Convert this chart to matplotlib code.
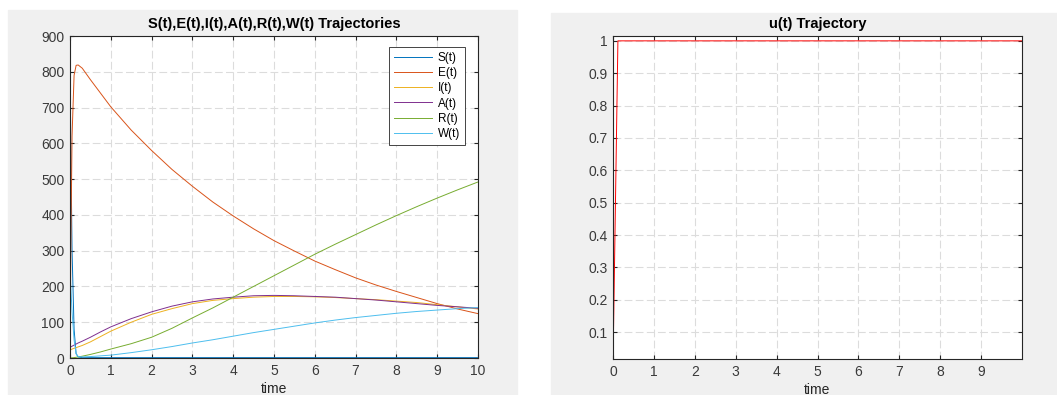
import matplotlib
matplotlib.use('Agg')
from matplotlib import pyplot as plt
from matplotlib.patches import Rectangle

plt.rcParams['font.family'] = ['Liberation Sans', 'DejaVu Sans']

# time points
t = [0, 0.02, 0.05, 0.1, 0.15, 0.2, 0.3, 0.5, 0.75, 1, 1.5, 2, 2.5, 3, 3.5, 4, 4.5,
     5, 5.5, 6, 6.5, 7, 7.5, 8, 8.5, 9, 9.5, 10]
S = [800, 600, 300, 80, 12, 3, 1, 1, 1, 1, 1, 1, 1, 1, 1, 1, 1,
     1, 1, 1, 1, 1, 1, 1, 1, 1, 1, 1]
E = [20, 300, 620, 790, 818, 819, 810, 778, 740, 702, 637, 580, 527, 480, 436, 397, 361,
     328, 299, 271, 247, 224, 204, 186, 169, 152, 137, 124]
I = [22, 23, 25, 27, 29, 31, 35, 45, 60, 75, 100, 122, 138, 152, 161, 166, 170,
     172, 172, 171, 169, 166, 163, 159, 155, 149, 143, 137]
A = [30, 31, 33, 36, 39, 42, 47, 58, 73, 87, 110, 129, 145, 157, 165, 170, 174,
     175, 174, 172, 170, 166, 162, 157, 152, 147, 143, 139]
R = [0, 0, 0.5, 1, 2, 3, 5, 10, 17, 25, 40, 58, 83, 112, 140, 170, 200,
     230, 260, 290, 318, 345, 372, 398, 423, 447, 470, 492]
W = [260, 200, 130, 50, 12, 4, 3, 4, 6, 8, 15, 23, 32, 42, 51, 61, 71,
     80, 89, 98, 106, 113, 119, 125, 130, 134, 138, 141]

t_u = [0, 0.12, 10]
u = [0.0, 1.0, 1.0]

series = [('S(t)', S, '#0072BD'), ('E(t)', E, '#D95319'), ('I(t)', I, '#EDB120'),
          ('A(t)', A, '#7E2F8E'), ('R(t)', R, '#77AC30'), ('W(t)', W, '#4DBEEE')]

W_PX, H_PX = 1057, 395
fig = plt.figure(figsize=(W_PX / 100, H_PX / 100), dpi=100)
fig.patch.set_facecolor('white')

# grey figure panels (two matlab windows side by side)
fig.patches.append(Rectangle((8 / W_PX, 0), 509 / W_PX, 385 / H_PX,
                             transform=fig.transFigure, color='#f0f0f0', zorder=-10))
fig.patches.append(Rectangle((551 / W_PX, 0), 506 / W_PX, 382 / H_PX,
                             transform=fig.transFigure, color='#f0f0f0', zorder=-10))

ax1 = fig.add_axes([70 / W_PX, (H_PX - 358) / H_PX, 408 / W_PX, 322 / H_PX])
ax2 = fig.add_axes([613 / W_PX, (H_PX - 359) / H_PX, 409 / W_PX, 323 / H_PX])


def matlab_style(ax):
    ax.set_facecolor('white')
    ax.grid(True, color='#dcdcdc', linestyle=(0, (7, 3)), linewidth=0.8)
    ax.set_axisbelow(True)
    for sp in ax.spines.values():
        sp.set_color('#262626')
        sp.set_linewidth(0.8)
    ax.tick_params(direction='in', length=3, width=0.8, top=True, right=True,
                   labelsize=10, labelcolor='#3a3a3a', color='#262626', pad=4)
    ax.set_xlabel('time', fontsize=10, color='#262626', labelpad=3)


for name, vals, col in series:
    ax1.plot(t, vals, color=col, linewidth=0.7, label=name)
ax1.set_xlim(0, 10)
ax1.set_ylim(0, 900)
ax1.set_xticks(range(0, 11))
ax1.set_yticks(range(0, 901, 100))
matlab_style(ax1)
ax1.set_title('S(t),E(t),I(t),A(t),R(t),W(t) Trajectories', fontsize=10.5,
              fontweight='bold', pad=6)
leg = ax1.legend(loc='upper right', bbox_to_anchor=(0.968, 0.966), fontsize=8.5,
                 fancybox=False, framealpha=1, edgecolor='#262626',
                 handlelength=3.2, labelspacing=0.28, borderpad=0.4,
                 handletextpad=0.5, borderaxespad=0)
leg.get_frame().set_linewidth(0.6)

ax2.plot(t_u, u, color='#ff0000', linewidth=0.7)
ax2.set_xlim(0, 10)
ax2.set_ylim(0.017, 1.015)
ax2.set_xticks(range(0, 10))
ax2.set_yticks([0.1, 0.2, 0.3, 0.4, 0.5, 0.6, 0.7, 0.8, 0.9, 1])
ax2.set_yticklabels(['0.1', '0.2', '0.3', '0.4', '0.5', '0.6', '0.7', '0.8', '0.9', '1'])
matlab_style(ax2)
ax2.set_title('u(t) Trajectory', fontsize=10.5, fontweight='bold', pad=6)

fig.savefig('out.png', dpi=100)
